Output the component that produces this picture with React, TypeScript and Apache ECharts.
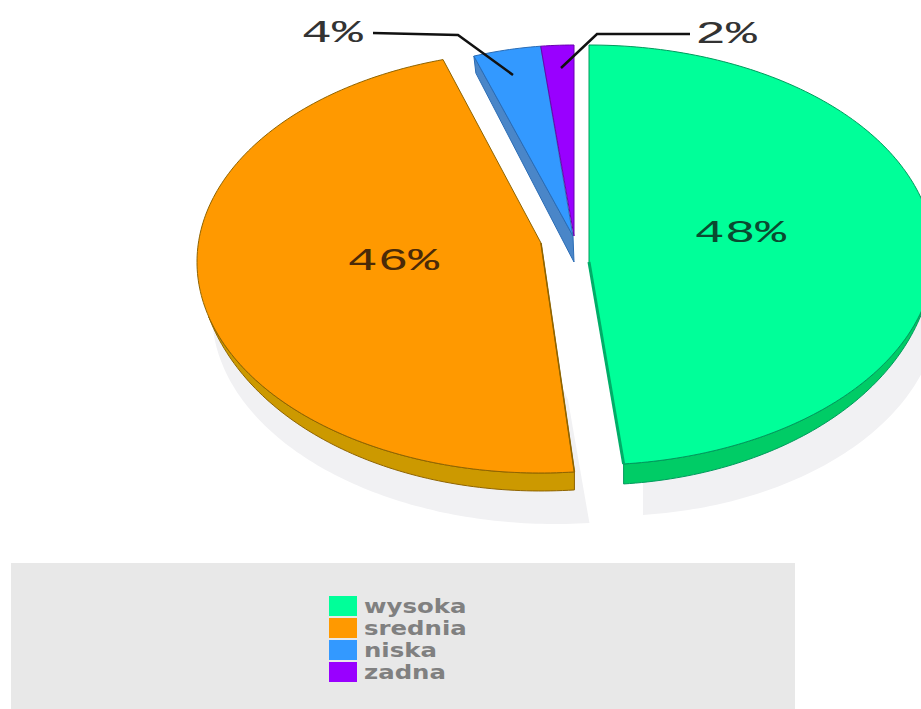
import React, { useEffect, useRef } from "react";
import * as echarts from "echarts";

const categories = ["wysoka", "srednia", "niska", "zadna"];
const shareValues = [48.4, 46.4, 3.5, 1.7];
const percentLabels = ["48%", "46%", "4%", "2%"];

const colors = ["#00ff99", "#ff9900", "#3399ff", "#9900ff"];
const sideColors = ["#00cc66", "#cc9900", "#4a86c8", "#6a00b0"];
const edgeColors = ["#009a5c", "#8f6400", "#2a6cb5", "#6a00b0"];

// exploded, tilted slices: ellipse centre + radii, apex, depth, perspective extension of the last rim angle
const geometry = [
  { cx: 589, cy: 255, rx: 345, ry: 210, ax: 589, ay: 262, depth: 20, extend: 0 },
  { cx: 540, cy: 262, rx: 343, ry: 211, ax: 541, ay: 243, depth: 18, extend: 2.3 },
  { cx: 574, cy: 255, rx: 312, ry: 210, ax: 573, ay: 236, depth: 18, extend: 0 },
  { cx: 574, cy: 255, rx: 312, ry: 210, ax: 574, ay: 236, depth: 0, extend: 0 },
];
const shadows = [
  { cx: 610, cy: 306, rx: 329, ry: 210, ax: 643, ay: 440 },
  { cx: 555, cy: 313, rx: 343, ry: 211, ax: 568, ay: 400 },
  null,
  null,
];
const labelPos = [
  { x: 740, y: 233 },
  { x: 393, y: 261 },
  { x: 332, y: 33 },
  { x: 726, y: 34 },
];
const leaders = [
  null,
  null,
  [[373, 33], [458, 35], [513, 75]],
  [[690, 34], [597, 34], [561, 68]],
];

const total = shareValues.reduce((a, b) => a + b, 0);
const startAngles: number[] = [];
shareValues.reduce((acc, v, i) => {
  startAngles[i] = acc;
  return acc + (v / total) * 360;
}, 0);

function arc(g: any, from: number, to: number, dyAt: (deg: number) => number = () => 0) {
  const n = Math.max(2, Math.ceil(Math.abs(to - from)));
  const pts: number[][] = [];
  for (let k = 0; k <= n; k++) {
    const deg = from + ((to - from) * k) / n;
    const a = (deg * Math.PI) / 180;
    pts.push([g.cx + g.rx * Math.sin(a), g.cy - g.ry * Math.cos(a) + dyAt(deg)]);
  }
  return pts;
}

const renderSlice = (i: number) => () => {
  const g = geometry[i];
  const s = startAngles[i];
  const e = s + (shareValues[i] / total) * 360;
  const children: any[] = [];

  const sh = shadows[i];
  if (sh) {
    children.push({
      type: "polygon",
      shape: { points: [[sh.ax, sh.ay], ...arc(sh, s, e)] },
      style: { fill: "#f1f1f3" },
    });
  }

  if (i === 0) {
    const from = 100;
    const dy = (deg: number) => g.depth * (1 - Math.pow((e - deg) / (e - from), 2));
    const a = arc(g, from, e);
    const b = arc(g, from, e, dy).reverse();
    children.push({
      type: "polygon",
      shape: { points: [...a, ...b] },
      style: { fill: sideColors[i], stroke: edgeColors[i], lineWidth: 1 },
    });
  } else if (i === 1) {
    const to = 255;
    const dy = (deg: number) => g.depth * (1 - Math.pow((deg - s) / (to - s), 2.5));
    const a = arc(g, s, to);
    const b = arc(g, s, to, dy).reverse();
    children.push({
      type: "polygon",
      shape: { points: [...a, ...b] },
      style: { fill: sideColors[i], stroke: edgeColors[i], lineWidth: 1 },
    });
  } else if (i === 2) {
    const p = arc(g, s, s)[0];
    children.push({
      type: "polygon",
      shape: { points: [p, [g.ax, g.ay], [574, g.ay + 26], [p[0] + 2, p[1] + 17]] },
      style: { fill: sideColors[i], stroke: edgeColors[i], lineWidth: 1 },
    });
  }

  children.push({
    type: "polygon",
    shape: { points: [[g.ax, g.ay], ...arc(g, s, e + g.extend)] },
    style: { fill: colors[i], stroke: edgeColors[i], lineWidth: 1, lineJoin: "round" },
  });

  // darker cut edges along the exploded gap
  if (i < 2) {
    const rim = arc(g, s, s + 1)[0];
    const rimEnd = i === 0 ? arc(g, e, e + 1)[0] : rim;
    children.push({
      type: "polyline",
      shape: { points: [[g.ax, g.ay], rimEnd] },
      style: {
        fill: "none",
        stroke: i === 0 ? "#00ad68" : "#8f6400",
        lineWidth: i === 0 ? 3 : 1.5,
      },
    });
  }

  const lead = leaders[i];
  if (lead) {
    children.push({
      type: "polyline",
      shape: { points: lead },
      style: { fill: "none", stroke: "#111111", lineWidth: 2.5 },
      z2: 10,
    });
  }

  children.push({
    type: "text",
    x: labelPos[i].x,
    y: labelPos[i].y,
    scaleX: 1.6,
    z2: 10,
    style: {
      text: percentLabels[i],
      fontFamily: "Liberation Mono",
      fontSize: 32,
      fill: i < 2 ? (i === 0 ? "#0a4a30" : "#4a2a08") : "#333333",
      align: "center",
      verticalAlign: "middle",
    },
  });

  return { type: "group", children };
};

const legendGraphics = categories.flatMap((name, i) => [
  {
    type: "rect",
    shape: { x: 329, y: 596 + i * 22, width: 28, height: 20 },
    style: { fill: colors[i] },
  },
  {
    type: "text",
    x: 364,
    y: 606 + i * 22,
    scaleX: 1.22,
    style: {
      text: name,
      fontFamily: "DejaVu Sans",
      fontWeight: "bold",
      fontSize: 20,
      fill: "#808080",
      align: "left",
      verticalAlign: "middle",
    },
  },
]);

export default function App() {
  const ref = useRef<HTMLDivElement>(null);
  useEffect(() => {
    document.body.style.margin = "0";
    const chart = echarts.init(ref.current!, undefined, { renderer: "svg" });
    chart.setOption({
      animation: false,
      backgroundColor: "#ffffff",
      graphic: [
        {
          type: "rect",
          z: -1,
          shape: { x: 11, y: 563, width: 784, height: 146 },
          style: { fill: "#e8e8e8" },
        },
        ...legendGraphics.map((g) => ({ ...g, z: 5 })),
      ],
      series: categories.map((name, i) => ({
        type: "custom",
        name,
        coordinateSystem: "none",
        renderItem: renderSlice(i),
        data: [[shareValues[i]]],
        silent: true,
        z: i + 1,
      })),
    });
    return () => chart.dispose();
  }, []);
  return <div ref={ref} style={{ width: 921, height: 709 }} />;
}
